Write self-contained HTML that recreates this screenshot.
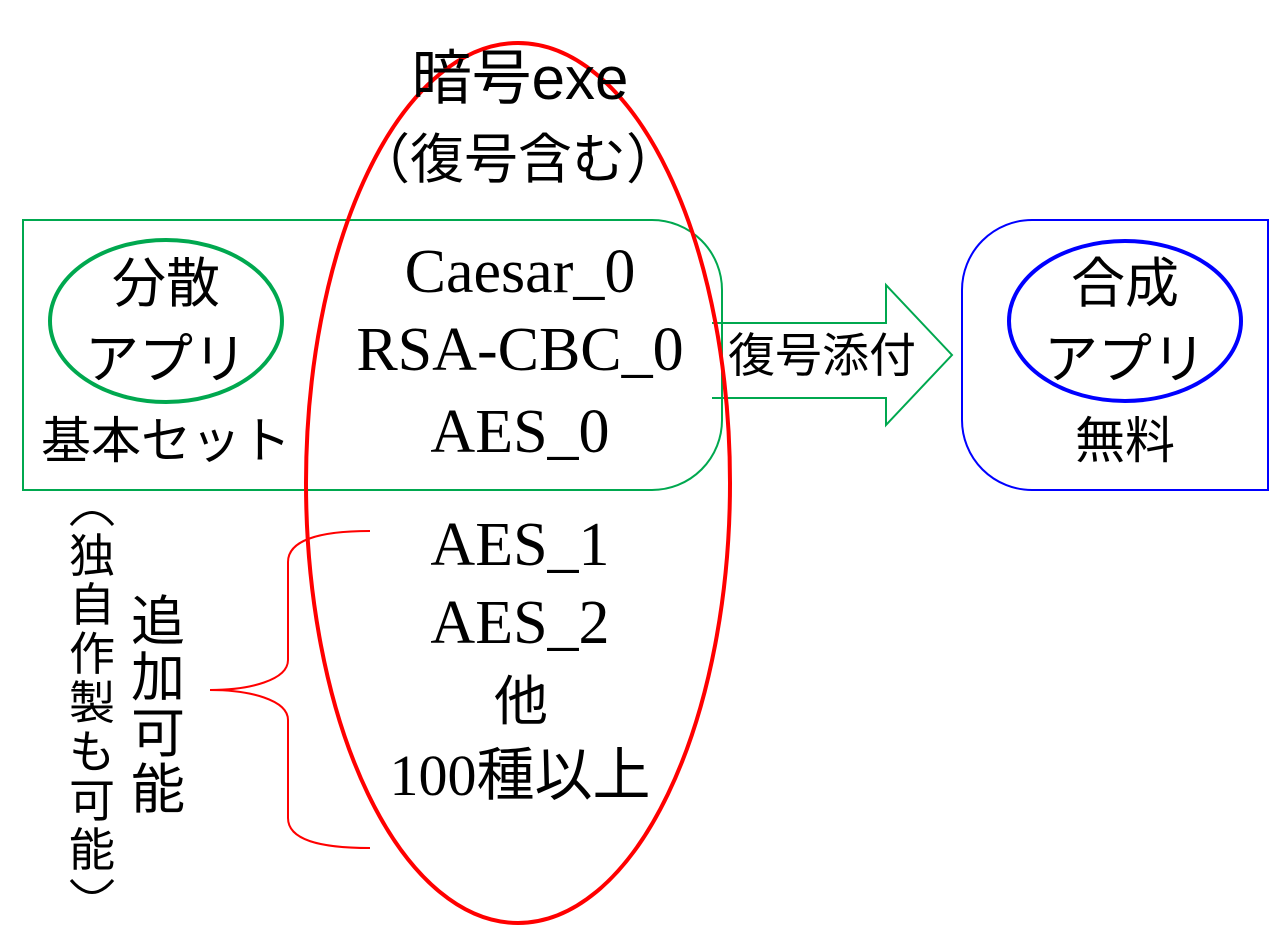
<!DOCTYPE html>
<html><head><meta charset="utf-8"><style>
body{margin:0;background:#fff;width:1283px;height:939px;overflow:hidden}
svg{display:block}
text{font-family:"Liberation Sans","Noto Sans CJK JP",sans-serif;fill:#000}
.s{font-family:"Liberation Serif","Noto Sans CJK JP",serif}
</style></head><body>
<svg width="1283" height="939" viewBox="0 0 1283 939">
<path d="M23,220 H652 A70,70 0 0 1 722,290 V420 A70,70 0 0 1 652,490 H23 Z" fill="none" stroke="#00a84f" stroke-width="2"/>
<ellipse cx="166" cy="321" rx="116" ry="81" fill="none" stroke="#00a84f" stroke-width="4"/>
<path d="M712,323 H886 V285 L952,355 L886,425 V398 H712" fill="none" stroke="#00a84f" stroke-width="2"/>
<path d="M1032,220 H1268 V490 H1032 A70,70 0 0 1 962,420 V290 A70,70 0 0 1 1032,220 Z" fill="none" stroke="#0000ff" stroke-width="2"/>
<ellipse cx="1125" cy="321" rx="116" ry="80" fill="none" stroke="#0000ff" stroke-width="4"/>
<ellipse cx="518" cy="483" rx="212" ry="440" fill="none" stroke="#ff0000" stroke-width="4"/>
<path d="M370,531 C320,531 288,540 288,562 V660 C288,680 250,690 210,690 C250,690 288,700 288,720 V818 C288,840 320,848 370,848" fill="none" stroke="#ff0000" stroke-width="2"/>
<g font-size="60" text-anchor="middle">
<text x="520" y="99">暗号exe</text>
<text x="518" y="178" font-size="54">（復号含む）</text>
</g>
<g font-size="62" text-anchor="middle">
<text class="s" x="520" y="292">Caesar_0</text>
<text class="s" x="520" y="370">RSA-CBC_0</text>
<text class="s" x="520" y="452">AES_0</text>
<text class="s" x="520" y="565">AES_1</text>
<text class="s" x="520" y="643">AES_2</text>
<text class="s" x="520" y="795" font-size="58">100種以上</text>
</g>
<text x="521" y="720" font-size="54" text-anchor="middle">他</text>
<g font-size="54" text-anchor="middle">
<text x="166" y="302">分散</text>
<text x="166" y="378">アプリ</text>
<text x="166" y="458" font-size="50">基本セット</text>
<text x="1125" y="302">合成</text>
<text x="1125" y="378">アプリ</text>
<text x="1125" y="458" font-size="50">無料</text>
</g>
<text x="822" y="372" font-size="47" text-anchor="middle">復号添付</text>
<g font-size="54" text-anchor="middle">
<text x="158" y="640">追</text>
<text x="158" y="696">加</text>
<text x="158" y="752">可</text>
<text x="158" y="808">能</text>
</g>
<path d="M71,525 Q92,500 113,525" fill="none" stroke="#000" stroke-width="3"/>
<path d="M71,880 Q92,905 113,880" fill="none" stroke="#000" stroke-width="3"/>
<g font-size="46" text-anchor="middle">
<text x="92" y="572">独</text>
<text x="92" y="621">自</text>
<text x="92" y="670">作</text>
<text x="92" y="719">製</text>
<text x="92" y="768">も</text>
<text x="92" y="817">可</text>
<text x="92" y="866">能</text>
</g>
</svg>
</body></html>
